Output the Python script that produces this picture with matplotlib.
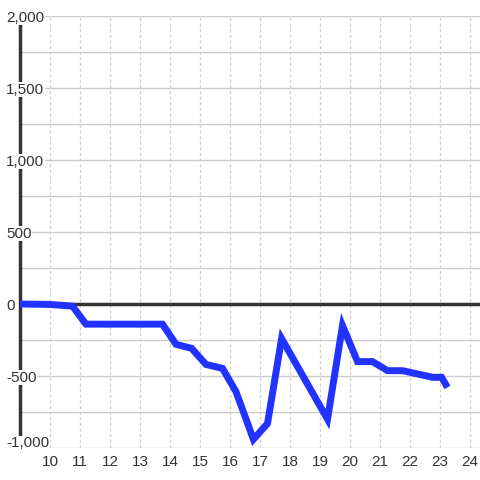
import matplotlib
matplotlib.use("Agg")
import matplotlib.pyplot as plt
import matplotlib.transforms as mtransforms

x_vals = [9.0, 10.0, 10.75, 11.2, 13.75, 14.2, 14.72, 15.2, 15.75, 16.2, 16.78, 17.25, 17.72, 19.25, 19.75, 20.25, 20.75, 21.25, 21.75, 22.75, 23.05, 23.25]
y_vals = [0, -3, -15, -140, -140, -280, -308, -420, -447, -609, -940, -830, -240, -800, -150, -400, -400, -463, -463, -509, -509, -579]

x_ticks = list(range(10, 25))
y_ticks = [-1000, -500, 0, 500, 1000, 1500, 2000]
y_tick_labels = ["-1,000", "-500", "0", "500", "1,000", "1,500", "2,000"]
y_grid = list(range(-1000, 2001, 250))

plt.rcParams['font.family'] = ['Liberation Sans', 'DejaVu Sans']
fig = plt.figure(figsize=(4.8, 4.8), dpi=100)
ax = fig.add_axes([20/480, 32/480, 460/480, 432/480])
ax.set_xlim(9.0, 24.333)
ax.set_ylim(-1000, 2000)

for s in ['top', 'right', 'bottom']:
    ax.spines[s].set_visible(False)
ax.spines['left'].set_color('#333333')
ax.spines['left'].set_linewidth(2.5)
ax.spines['left'].set_zorder(2.5)

for g in y_grid:
    ax.axhline(g, color='#cccccc', lw=1, zorder=1)
for xt in x_ticks:
    ax.axvline(xt, color='#cfcfcf', lw=0.9, ls=(0, (2.5, 2.0)), zorder=1)

ax.axhline(0, color='#333333', lw=2.5, zorder=2)
ax.plot(x_vals, y_vals, color='#2233ff', lw=5, zorder=4, solid_joinstyle='miter', solid_capstyle='butt')

ax.set_xticks(x_ticks)
ax.set_xticklabels([str(t) for t in x_ticks])
ax.tick_params(axis='x', length=0, pad=5, labelsize=11, labelcolor='#333333')
ax.set_yticks([])

trans = mtransforms.blended_transform_factory(fig.transFigure, ax.transData)
for yv, lab in zip(y_ticks, y_tick_labels):
    yy = yv + 42 if yv == -1000 else yv
    ax.text(6/480, yy, lab, transform=trans, ha='left', va='center_baseline', fontsize=11,
            color='#333333', clip_on=False, zorder=5,
            bbox=dict(facecolor='white', edgecolor='none', pad=0.5))

fig.savefig('out.png', dpi=100, facecolor='white')
